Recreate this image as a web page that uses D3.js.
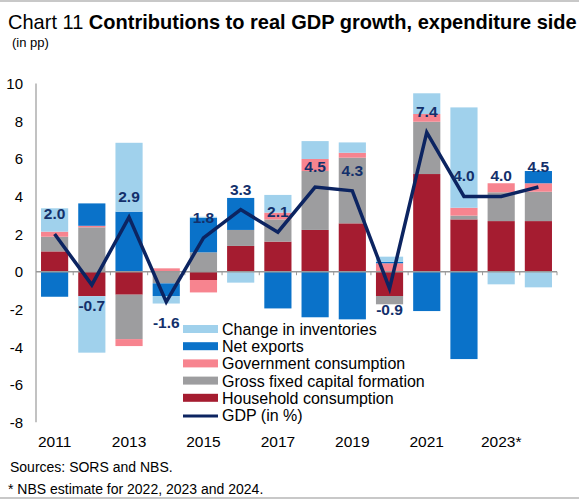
<!DOCTYPE html>
<html>
<head>
<meta charset="utf-8">
<script src="https://cdn.jsdelivr.net/npm/d3@7"></script>
<style>
  html, body { margin: 0; padding: 0; background: #fff; }
  svg { display: block; font-family: "Liberation Sans", Arial, sans-serif; }
</style>
</head>
<body>
<svg id="chart" width="579" height="499"></svg>
<script>
// ---- Data ----
const years = ["2011","2012","2013","2014","2015","2016","2017","2018","2019","2020","2021","2022","2023","2024"];
const xTickLabels = ["2011","","2013","","2015","","2017","","2019","","2021","","2023*",""];
const household   = [1.08, -1.30, -1.22,  0.00, -0.44, 1.37, 1.60, 2.22, 2.57, -1.29, 5.19, 2.78, 2.69, 2.69];
const gfcf        = [0.78,  2.36, -2.36, -0.62,  1.03, 0.85, 1.18, 3.13, 3.49, -0.44, 2.78, 0.20, 1.53, 1.56];
const government  = [0.27,  0.08, -0.37,  0.18, -0.66, 0.00, 0.36, 0.64, 0.26,  0.45, 0.41, 0.42, 0.48, 0.45];
const netExports  = [-1.33, 1.19,  3.19, -0.67,  1.84, 1.70,-1.95,-2.42,-2.53,  0.08,-2.09,-4.64, 0.00, 0.65];
const inventories = [1.24, -3.00,  3.66, -0.40,  0.05,-0.58, 0.94, 0.95, 0.55,  0.27, 1.10, 5.33,-0.67,-0.83];
const gdp         = [2.0, -0.7, 2.9, -1.6, 1.8, 3.3, 2.1, 4.5, 4.3, -0.9, 7.4, 4.0, 4.0, 4.5];
const yTicks = [10, 8, 6, 4, 2, 0, -2, -4, -6, -8];

const seriesNames = ["Household consumption","Gross fixed capital formation","Government consumption","Net exports","Change in inventories"];
const seriesKeys = ["household","gfcf","government","netExports","inventories"];
const seriesValues = [household, gfcf, government, netExports, inventories];
const colors = ["#a51c30", "#9d9d9f", "#f7848f", "#0a72c9", "#a0d1ec"];
const lineColor = "#0c2461";

// ---- Layout ----
const svg = d3.select("#chart");
const W = 579, H = 499;
const plot = { left: 36, right: 557, top: 83.5, bottom: 422.3 };

// frame lines
svg.append("rect").attr("x",0).attr("y",0).attr("width",W).attr("height",2).attr("fill","#c8c8c8");
svg.append("rect").attr("x",0).attr("y",H-2).attr("width",W).attr("height",2).attr("fill","#c8c8c8");

// title
const title = svg.append("text").attr("x", 8).attr("y", 29).attr("font-size", 20).attr("fill", "#000");
title.append("tspan").text("Chart 11 ");
title.append("tspan").attr("font-weight", "bold").text("Contributions to real GDP growth, expenditure side");
// fit title width to reference span
const tl = title.node().getComputedTextLength();
if (tl > 0) title.attr("font-size", 20 * 569 / tl);
svg.append("text").attr("x", 12).attr("y", 47).attr("font-size", 13).text("(in pp)");

// scales
const x = d3.scaleBand().domain(years).range([plot.left, plot.right]).paddingInner(0.27).paddingOuter(0.135);
const xc = d3.scaleBand().domain(years).range([plot.left, plot.right]);
const y = d3.scaleLinear().domain([-8, 10]).range([plot.bottom, plot.top]);

// data table
const table = years.map((yr, i) => {
  const o = { year: yr };
  seriesKeys.forEach((k, j) => o[k] = seriesValues[j][i]);
  return o;
});
const stack = d3.stack().keys(seriesKeys).offset(d3.stackOffsetDiverging);
const stacked = stack(table);

// bars
const g = svg.append("g");
stacked.forEach((s, j) => {
  g.selectAll(null).data(s).enter().append("rect")
    .attr("x", d => x(d.data.year))
    .attr("width", x.bandwidth())
    .attr("y", d => y(Math.max(d[0], d[1])))
    .attr("height", d => Math.abs(y(d[0]) - y(d[1])))
    .attr("fill", colors[j]);
});

// y axis line
svg.append("line").attr("x1", plot.left).attr("x2", plot.left)
  .attr("y1", y(10)).attr("y2", y(-8)).attr("stroke", "#999").attr("stroke-width", 1.2);

// zero line with ticks
const xAxisG = svg.append("g").attr("transform", `translate(0,${y(0)})`);
xAxisG.append("line").attr("x1", plot.left).attr("x2", plot.right).attr("stroke", "#999").attr("stroke-width", 1.5);
const bounds = years.map(yr => xc(yr)).concat([plot.right]);
xAxisG.selectAll(null).data(bounds.slice(1)).enter().append("line")
  .attr("x1", d => d).attr("x2", d => d).attr("y1", 0).attr("y2", 3.5)
  .attr("stroke", "#999").attr("stroke-width", 1);

// y tick labels
svg.append("g").selectAll("text").data(yTicks).enter().append("text")
  .attr("x", 23).attr("y", d => y(d) + 5.5).attr("text-anchor", "end")
  .attr("font-size", 15).attr("fill", "#000").text(d => d);

// x tick labels
svg.append("g").selectAll("text").data(years).enter().append("text")
  .attr("x", d => xc(d) + xc.bandwidth() / 2).attr("y", 447)
  .attr("text-anchor", "middle").attr("font-size", 15.5).attr("fill", "#000")
  .text((d, i) => xTickLabels[i]);

// GDP line
const line = d3.line().x((d, i) => xc(years[i]) + xc.bandwidth() / 2).y(d => y(d));
svg.append("path").datum(gdp).attr("d", line).attr("fill", "none")
  .attr("stroke", lineColor).attr("stroke-width", 3.5).attr("stroke-linejoin", "miter");

// GDP labels
svg.append("g").selectAll("text").data(gdp).enter().append("text")
  .attr("x", (d, i) => xc(years[i]) + xc.bandwidth() / 2)
  .attr("y", d => d >= 0 ? y(d) - 15 : y(d) + 26)
  .attr("text-anchor", "middle").attr("font-size", 15.5).attr("font-weight", "bold")
  .attr("fill", "#13306b").text(d => d.toFixed(1));

// legend
const legendItems = [
  { name: "Change in inventories", color: colors[4], type: "rect" },
  { name: "Net exports", color: colors[3], type: "rect" },
  { name: "Government consumption", color: colors[2], type: "rect" },
  { name: "Gross fixed capital formation", color: colors[1], type: "rect" },
  { name: "Household consumption", color: colors[0], type: "rect" },
  { name: "GDP (in %)", color: lineColor, type: "line" }
];
const lg = svg.append("g").attr("transform", "translate(183,329)");
legendItems.forEach((it, i) => {
  const yy = i * 17.2;
  if (it.type === "rect") {
    lg.append("rect").attr("x", 0).attr("y", yy - 4).attr("width", 35).attr("height", 8).attr("fill", it.color);
  } else {
    lg.append("line").attr("x1", 0).attr("x2", 35).attr("y1", yy + 1).attr("y2", yy + 1)
      .attr("stroke", it.color).attr("stroke-width", 3);
  }
  lg.append("text").attr("x", 39).attr("y", yy + 6).attr("font-size", 16).attr("fill", "#000").text(it.name);
});

// footnotes
svg.append("text").attr("x", 10).attr("y", 472).attr("font-size", 14).text("Sources: SORS and NBS.");
svg.append("text").attr("x", 8).attr("y", 494).attr("font-size", 14).text("* NBS estimate for 2022, 2023 and 2024.");
</script>
</body>
</html>
